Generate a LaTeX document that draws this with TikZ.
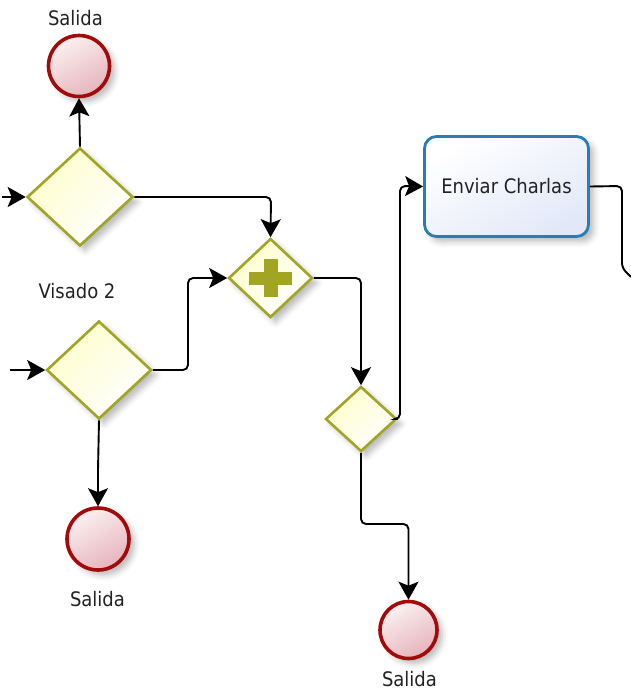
\documentclass[tikz,border=0pt]{standalone}
\usepackage{fontspec}
\setmainfont{DejaVu Sans Condensed}
\usetikzlibrary{shapes.geometric,arrows.meta,shadows.blur}
\definecolor{gwborder}{HTML}{A2A424}
\definecolor{gwfill}{HTML}{FDFDCC}
\definecolor{endred}{HTML}{A30B0B}
\definecolor{endfillA}{HTML}{FBF0F1}
\definecolor{endfillB}{HTML}{E6B4BC}
\definecolor{taskblue}{HTML}{2A7DB2}
\definecolor{taskfill}{HTML}{E2E8F8}
\definecolor{txt}{HTML}{222222}
\tikzset{
  shad/.style={blur shadow={shadow xshift=5pt, shadow yshift=-5pt, shadow blur radius=6pt, shadow opacity=28}},
  gateway/.style={diamond, draw=gwborder, line width=2.6pt, inner sep=0pt,
    top color=gwfill, bottom color=white, shading angle=45, shad},
  endev/.style={circle, draw=endred, line width=3.6pt, inner sep=0pt,
    top color=endfillA, bottom color=endfillB, shading angle=30, shad},
  taskbox/.style={rectangle, rounded corners=12pt, draw=taskblue, line width=2.8pt,
    top color=white, bottom color=taskfill, shading angle=30,
    minimum width=164pt, minimum height=100pt, inner sep=0pt, shad,
    font=\fontsize{20}{24}\selectfont, text=txt},
  lbl/.style={font=\fontsize{20}{24}\selectfont, text=txt, anchor=base, inner sep=0pt},
  flow/.style={draw=black, line width=1.9pt, rounded corners=5pt,
    -{Stealth[length=18pt,width=20pt,inset=4pt]}},
  plainflow/.style={draw=black, line width=1.9pt, rounded corners=5pt},
  plussign/.style={fill=gwborder, draw=none}
}
\begin{document}
\begin{tikzpicture}[x=1pt,y=-1pt]
\useasboundingbox (0,0) rectangle (631,691);

% events
\node[endev, minimum size=61pt] (e1) at (79,66) {};
\node[endev, minimum size=62pt] (e2) at (98,539) {};
\node[endev, minimum size=57pt] (e3) at (408.5,630) {};

% gateways
\node[gateway, minimum width=106pt, minimum height=98pt] (g1) at (80,197) {};
\node[gateway, minimum width=105pt, minimum height=98pt] (g2) at (99,370) {};
\node[gateway, minimum width=84pt, minimum height=79pt] (pg) at (270.5,278) {};
\node[gateway, minimum width=71pt, minimum height=65pt] (g3) at (361,419) {};
\fill[plussign] (249,271.5) rectangle (292,285);
\fill[plussign] (264,259) rectangle (277.5,297);

% task
\node[taskbox] (task) at (506.5,186.5) {Enviar Charlas};

% labels
\node[lbl] (l1) at (75.5,25) {Salida};
\node[lbl] (l2) at (77,298) {Visado 2};
\node[lbl] (l3) at (97.5,606) {Salida};
\node[lbl] (l4) at (409.5,686) {Salida};

% free ends
\coordinate (in1) at (2,197);
\coordinate (in2) at (10,370);
\coordinate (out1) at (631,277);

% connectors
\draw[flow] (in1) -- (g1.west);
\draw[flow] (in2) -- (g2.west);
\draw[flow] (g1.north) -- (e1.south);
\draw[flow] (g1.east) -- (271,197) -- (pg.north);
\draw[flow] (g2.east) -- (188,370) -- (188,278) -- (pg.west);
\draw[flow] (pg.east) -- (361,278) -- (g3.north);
\draw[flow] (g3.east) -- (400,419) -- (400,186) -- (task.west);
\draw[plainflow] (task.east) -- (622,186) -- (622,268) -- (out1);
\draw[flow] (g3.south) -- (361,524) -- (408.5,524) -- (e3.north);
\draw[flow] (g2.south) -- (98,470) -- (e2.north);
\end{tikzpicture}
\end{document}
